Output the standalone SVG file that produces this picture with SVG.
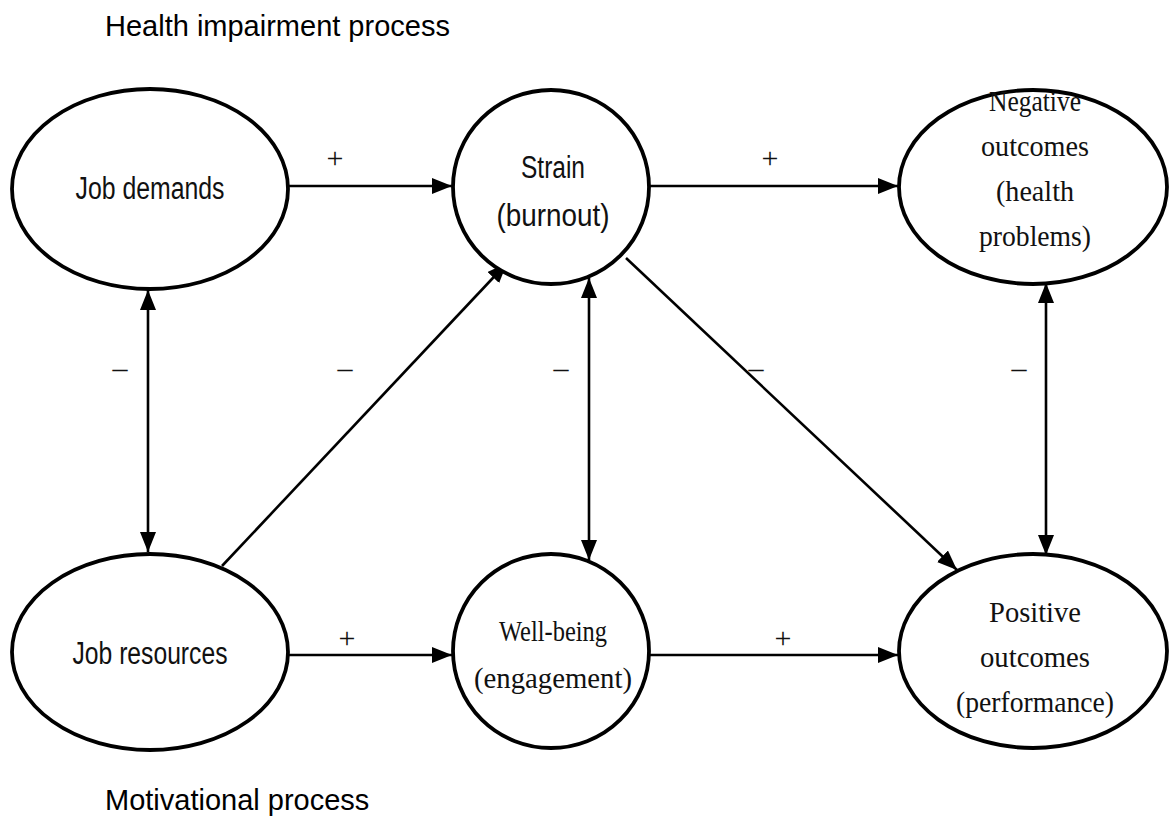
<svg xmlns="http://www.w3.org/2000/svg" width="1169" height="828" viewBox="0 0 1169 828">
<style>
.node ellipse{fill:#fff;stroke:#000;stroke-width:3.8}
.sans{font-family:"Liberation Sans",Arial,sans-serif;font-size:31px;fill:#111;text-anchor:middle}
.serif{font-family:"Liberation Serif","Times New Roman",serif;font-size:30px;fill:#111;text-anchor:middle}
.title{font-family:"Liberation Sans",Arial,sans-serif;font-size:29px;fill:#000}
.sign{font-family:"Liberation Serif","Times New Roman",serif;font-size:30px;fill:#111;text-anchor:middle}
#connectors line{stroke:#000;stroke-width:2.6;fill:none}
</style>
<defs>
<marker id="arr" viewBox="0 0 20 16" refX="20" refY="8" markerWidth="20" markerHeight="16" markerUnits="userSpaceOnUse" orient="auto-start-reverse">
<path d="M0,0 L20,8 L0,16 z" fill="#000"/>
</marker>
</defs>
<rect width="1169" height="828" fill="#fff"/>
<text class="title" x="105" y="36">Health impairment process</text>
<text class="title" x="105" y="810">Motivational process</text>

<g id="connectors">
<line x1="288" y1="186" x2="452" y2="186" marker-end="url(#arr)"/>
<line x1="648" y1="186" x2="898" y2="186" marker-end="url(#arr)"/>
<line x1="288" y1="655" x2="452" y2="655" marker-end="url(#arr)"/>
<line x1="648" y1="655" x2="898" y2="655" marker-end="url(#arr)"/>
<line x1="148" y1="290" x2="148" y2="552" marker-start="url(#arr)" marker-end="url(#arr)"/>
<line x1="589" y1="278" x2="589" y2="560" marker-start="url(#arr)" marker-end="url(#arr)"/>
<line x1="1046" y1="283" x2="1046" y2="555" marker-start="url(#arr)" marker-end="url(#arr)"/>
<line x1="222" y1="566" x2="507" y2="263" marker-end="url(#arr)"/>
<line x1="626" y1="258" x2="957" y2="570" marker-end="url(#arr)"/>
</g>

<g id="signs">
<text class="sign" x="335" y="168">+</text>
<text class="sign" x="770" y="168">+</text>
<text class="sign" x="347" y="648">+</text>
<text class="sign" x="783" y="648">+</text>
<text class="sign" x="120" y="378">–</text>
<text class="sign" x="345" y="378">–</text>
<text class="sign" x="561" y="378">–</text>
<text class="sign" x="756" y="378">–</text>
<text class="sign" x="1019" y="378">–</text>
</g>

<g id="job-demands" class="node">
<ellipse cx="150" cy="189" rx="138" ry="100"/>
<text class="sans" x="150" y="199" textLength="149" lengthAdjust="spacingAndGlyphs">Job demands</text>
</g>
<g id="strain" class="node">
<ellipse cx="551" cy="187" rx="98" ry="97"/>
<text class="sans" x="553" y="178" textLength="64" lengthAdjust="spacingAndGlyphs">Strain</text>
<text class="sans" x="553" y="226" textLength="113" lengthAdjust="spacingAndGlyphs">(burnout)</text>
</g>
<g id="negative-outcomes" class="node">
<ellipse cx="1033" cy="187" rx="134" ry="97"/>
<text class="serif" x="1035" y="111" textLength="92" lengthAdjust="spacingAndGlyphs">Negative</text>
<text class="serif" x="1035" y="156" textLength="108" lengthAdjust="spacingAndGlyphs">outcomes</text>
<text class="serif" x="1035" y="201" textLength="78" lengthAdjust="spacingAndGlyphs">(health</text>
<text class="serif" x="1035" y="246" textLength="112" lengthAdjust="spacingAndGlyphs">problems)</text>
</g>
<g id="job-resources" class="node">
<ellipse cx="150" cy="652" rx="138" ry="98"/>
<text class="sans" x="150" y="664" textLength="155" lengthAdjust="spacingAndGlyphs">Job resources</text>
</g>
<g id="well-being" class="node">
<ellipse cx="551" cy="651" rx="98" ry="97"/>
<text class="serif" x="553" y="641" textLength="108" lengthAdjust="spacingAndGlyphs">Well-being</text>
<text class="serif" x="553" y="688" textLength="158" lengthAdjust="spacingAndGlyphs">(engagement)</text>
</g>
<g id="positive-outcomes" class="node">
<ellipse cx="1033" cy="651" rx="134" ry="97"/>
<text class="serif" x="1035" y="622" textLength="92" lengthAdjust="spacingAndGlyphs">Positive</text>
<text class="serif" x="1035" y="667" textLength="110" lengthAdjust="spacingAndGlyphs">outcomes</text>
<text class="serif" x="1035" y="712" textLength="158" lengthAdjust="spacingAndGlyphs">(performance)</text>
</g>
</svg>
